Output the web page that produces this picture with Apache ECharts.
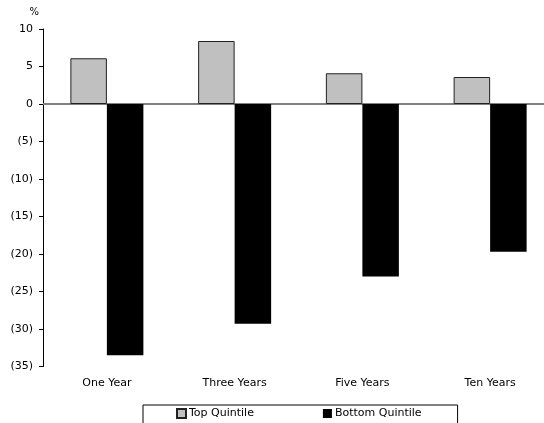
<!DOCTYPE html>
<html><head><meta charset="utf-8">
<script src="https://cdn.jsdelivr.net/npm/echarts@6/dist/echarts.min.js"></script>
<style>html,body{margin:0;padding:0;background:#fff;overflow:hidden;width:544px;height:423px}#c{width:560px;height:423px}</style>
</head><body><div id="c"></div>
<script>
const categories = ['One Year', 'Three Years', 'Five Years', 'Ten Years'];
const topQuintile = [6.1, 8.4, 4.1, 3.6];
const bottomQuintile = [-33.5, -29.3, -23.0, -19.7];
const seriesNames = ['Top Quintile', 'Bottom Quintile'];

const chart = echarts.init(document.getElementById('c'));
const font = 'DejaVu Sans';
chart.setOption({
  animation: false,
  textStyle: {fontFamily: font},
  grid: {left: 43, width: 511, top: 29, height: 337.5, containLabel: false},
  legend: {
    data: seriesNames,
    left: 143, top: 405,
    orient: 'horizontal',
    icon: 'rect',
    itemWidth: 9, itemHeight: 9, itemGap: 69,
    padding: [3, 36, 12, 33],
    borderColor: '#000', borderWidth: 1,
    textStyle: {fontSize: 11, color: '#000', fontFamily: font, padding: [0,0,0,-2]}
  },
  xAxis: {
    type: 'category', data: categories,
    axisLine: {show: false, onZero: false},
    axisTick: {show: false},
    axisLabel: {fontSize: 11, color: '#000', margin: 11, fontFamily: font}
  },
  yAxis: {
    type: 'value', min: -35, max: 10, interval: 5,
    name: '%', nameLocation: 'end', nameGap: 12,
    nameTextStyle: {fontSize: 10, color: '#000', align: 'right', padding: [0, 4, 0, 0]},
    axisLine: {show: true, lineStyle: {color: '#000', width: 1}},
    axisTick: {show: true, inside: false, length: 4, lineStyle: {color: '#000'}},
    splitLine: {show: false},
    axisLabel: {fontSize: 11, color: '#000', margin: 10, fontFamily: font,
      formatter: v => v < 0 ? '(' + (-v) + ')' : String(v)}
  },
  series: [
    {name: seriesNames[0], type: 'bar', data: topQuintile, barWidth: 36.5, barGap: '0%',
     itemStyle: {color: '#C0C0C0', borderColor: '#222', borderWidth: 1},
     markLine: {silent: true, symbol: 'none', label: {show: false},
       lineStyle: {color: '#808080', width: 2, type: 'solid'},
       data: [{yAxis: 0}], z: 1}},
    {name: seriesNames[1], type: 'bar', data: bottomQuintile, barWidth: 36.5, barGap: '0%',
     itemStyle: {color: '#000', borderColor: '#000', borderWidth: 0}}
  ]
});
</script></body></html>
